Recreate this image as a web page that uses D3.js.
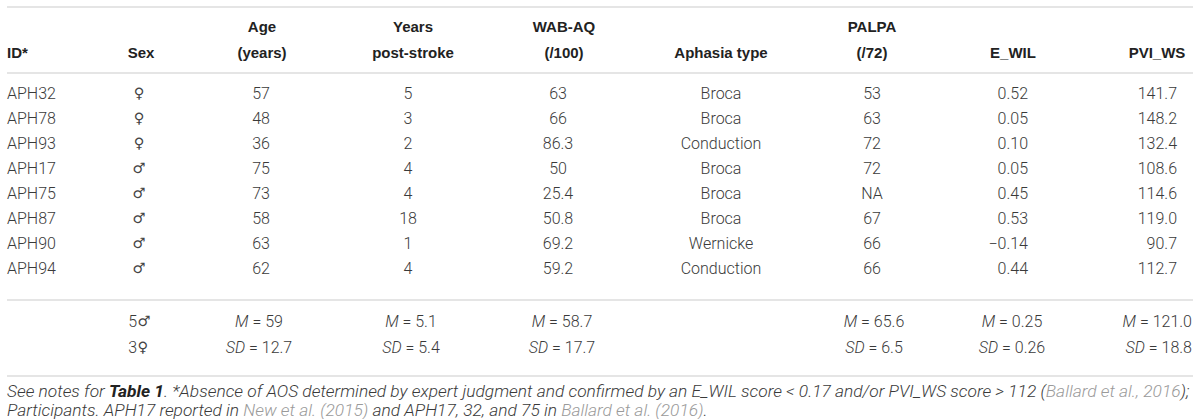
<!DOCTYPE html>
<html>
<head>
<meta charset="utf-8">
<script src="https://cdn.jsdelivr.net/npm/d3@7"></script>
<style>
  html, body { margin: 0; padding: 0; background: #fff; }
  svg { display: block; }
  .data { font-family: Roboto, "Liberation Sans", sans-serif; font-weight: 300; font-size: 16px; fill: #3a3a3a; }
  .head { font-family: "Liberation Sans", Roboto, sans-serif; font-weight: 700; font-size: 15px; fill: #222; }
  .sym { font-family: "DejaVu Sans", sans-serif; font-size: 14.5px; fill: #444; }
  .note { font-family: Roboto, "Liberation Sans", sans-serif; font-weight: 300; font-style: italic; font-size: 14px; fill: #3a3a3a; }
  .link { fill: #9a9a9a; }
</style>
</head>
<body>
<svg id="chart" width="1200" height="419"></svg>
<script>
// ---------- DATA ----------
const ids = ["APH32", "APH78", "APH93", "APH17", "APH75", "APH87", "APH90", "APH94"];
const sexes = ["♀", "♀", "♀", "♂", "♂", "♂", "♂", "♂"];
const ages = ["57", "48", "36", "75", "73", "58", "63", "62"];
const yearsPostStroke = ["5", "3", "2", "4", "4", "18", "1", "4"];
const wabAQ = ["63", "66", "86.3", "50", "25.4", "50.8", "69.2", "59.2"];
const aphasiaType = ["Broca", "Broca", "Conduction", "Broca", "Broca", "Broca", "Wernicke", "Conduction"];
const palpa = ["53", "63", "72", "72", "NA", "67", "66", "66"];
const eWIL = ["0.52", "0.05", "0.10", "0.05", "0.45", "0.53", "\u22120.14", "0.44"];
const pviWS = ["141.7", "148.2", "132.4", "108.6", "114.6", "119.0", "90.7", "112.7"];

const headerLine1 = ["", "", "Age", "Years", "WAB-AQ", "", "PALPA", "", ""];
const headerLine2 = ["ID*", "Sex", "(years)", "post-stroke", "(/100)", "Aphasia type", "(/72)", "E_WIL", "PVI_WS"];

const sexCountNumbers = ["5", "3"];
const sexCountSymbols = ["♂", "♀"];
const meanValues = ["59", "5.1", "58.7", "", "65.6", "0.25", "121.0"];
const sdValues = ["12.7", "5.4", "17.7", "", "6.5", "0.26", "18.8"];

// ---------- LAYOUT ----------
const svg = d3.select("#chart");
const left = 7, right = 1193;

const dataCols = [ids, sexes, ages, yearsPostStroke, wabAQ, aphasiaType, palpa, eWIL, pviWS];
const colLayout = [
  { hx: 7,    ha: "start",  dx: 7,    da: "start" },
  { hx: 141,  ha: "middle", dx: 139,  da: "middle" },
  { hx: 262,  ha: "middle", dx: 261,  da: "middle" },
  { hx: 413,  ha: "middle", dx: 408,  da: "middle" },
  { hx: 564,  ha: "middle", dx: 558,  da: "middle" },
  { hx: 721,  ha: "middle", dx: 721,  da: "middle" },
  { hx: 872,  ha: "middle", dx: 872,  da: "middle" },
  { hx: 1013, ha: "middle", dx: 1028, da: "end" },
  { hx: 1157, ha: "middle", dx: 1177, da: "end" }
];
const summaryLayout = [
  { x: 259, a: "middle" },
  { x: 411, a: "middle" },
  { x: 562, a: "middle" },
  null,
  { x: 874, a: "middle" },
  { x: 1012, a: "middle" },
  { x: 1192, a: "end" }
];

const rowY = d3.scalePoint().domain(d3.range(ids.length)).range([93, 268]);
const headY = d3.scalePoint().domain([0, 1]).range([27, 53]);
const sumY = d3.scalePoint().domain([0, 1]).range([321, 347]);

// rules
const rules = [7, 73, 300, 376];
svg.selectAll("line.rule").data(rules).join("line")
  .attr("class", "rule")
  .attr("x1", left).attr("x2", right)
  .attr("y1", d => d).attr("y2", d => d)
  .attr("stroke", "#dcdcdc").attr("stroke-width", 1.6);

// headers
[headerLine1, headerLine2].forEach((line, li) => {
  svg.append("g").selectAll("text").data(line).join("text")
    .attr("class", "head")
    .attr("x", (d, i) => colLayout[i].hx)
    .attr("y", headY(li))
    .attr("dy", "0.35em")
    .attr("text-anchor", (d, i) => colLayout[i].ha)
    .text(d => d);
});

// body
dataCols.forEach((col, ci) => {
  svg.append("g").selectAll("text").data(col).join("text")
    .attr("class", ci === 1 ? "sym" : "data")
    .attr("x", colLayout[ci].dx)
    .attr("y", (d, i) => rowY(i))
    .attr("dy", "0.35em")
    .attr("text-anchor", colLayout[ci].da)
    .text(d => d);
});

// summary: sex counts (digit + symbol)
sexCountNumbers.forEach((n, i) => {
  svg.append("text").attr("class", "data")
    .attr("x", 137).attr("y", sumY(i)).attr("dy", "0.35em")
    .attr("text-anchor", "end").text(n);
  svg.append("text").attr("class", "sym")
    .attr("x", 137.5).attr("y", sumY(i)).attr("dy", "0.35em")
    .attr("text-anchor", "start").text(sexCountSymbols[i]);
});

[[meanValues, "M"], [sdValues, "SD"]].forEach(([vals, lab], ri) => {
  vals.forEach((v, i) => {
    if (!summaryLayout[i] || v === "") return;
    const t = svg.append("text")
      .attr("class", "data")
      .attr("x", summaryLayout[i].x).attr("y", sumY(ri)).attr("dy", "0.35em")
      .attr("text-anchor", summaryLayout[i].a);
    t.append("tspan").style("font-style", "italic").text(lab);
    t.append("tspan").text(" = " + v);
  });
});

// footnote
const note1 = [
  ["See notes for ", ""], ["Table 1", "b"],
  [". *Absence of AOS determined by expert judgment and confirmed by an E_WIL score < 0.17 and/or PVI_WS score > 112 (", ""],
  ["Ballard et al., 2016", "l"], [");", ""]
];
const note2 = [
  ["Participants. APH17 reported in ", ""], ["New et al. (2015)", "l"],
  [" and APH17, 32, and 75 in ", ""], ["Ballard et al. (2016)", "l"], [".", ""]
];
const noteY = [391, 410];
const notes = [note1, note2].map((parts, li) => {
  const t = svg.append("text").attr("class", "note")
    .attr("x", left).attr("y", noteY[li]).attr("dy", "0.35em");
  t.selectAll("tspan").data(parts).join("tspan")
    .attr("class", d => d[1] === "l" ? "link" : null)
    .style("font-weight", d => d[1] === "b" ? 700 : null)
    .style("fill", d => d[1] === "b" ? "#222" : null)
    .text(d => d[0]);
  return t;
});
const len = notes[0].node().getComputedTextLength();
const fs = 14 * 1183 / len;
notes.forEach(t => t.style("font-size", fs.toFixed(2) + "px"));
</script>
</body>
</html>
